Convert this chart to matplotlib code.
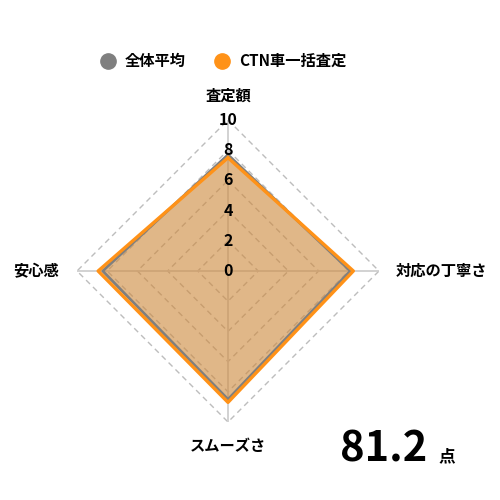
import numpy as np
import matplotlib.pyplot as plt
from matplotlib.lines import Line2D

plt.rcParams['font.family'] = ['Noto Sans CJK JP', 'DejaVu Sans']

# data
categories = ['査定額', '対応の丁寧さ', 'スムーズさ', '安心感']
avg_vals = [7.7, 8.1, 8.5, 8.3]     # 全体平均
ctn_vals = [7.5, 8.3, 8.7, 8.6]     # CTN車一括査定
series_names = ['全体平均', 'CTN車一括査定']
ticks = [0, 2, 4, 6, 8, 10]
score = '81.2'

gray = '#7f7f7f'
orange = '#ff9218'

fig = plt.figure(figsize=(5, 5), dpi=100)
ax = fig.add_axes([0.154, 0.156, 0.604, 0.604], projection='polar')
ax.set_theta_offset(np.pi / 2)
ax.set_theta_direction(-1)
ax.set_ylim(0, 10)
ax.grid(False)
ax.spines['polar'].set_visible(False)
ax.set_xticks([])
ax.set_yticks([])

n = len(categories)
ang = np.linspace(0, 2 * np.pi, n, endpoint=False)
ang_c = np.append(ang, ang[0])

# diamond grid + spokes
for r in ticks[1:]:
    ax.plot(ang_c, [r] * (n + 1), color='#bdbdbd', lw=1, ls=(0, (4, 3)), zorder=1)
for a in ang:
    ax.plot([a, a], [0, 10], color='#cfcfcf', lw=1.3, zorder=1)

# series
for vals, col in [(avg_vals, gray), (ctn_vals, orange)]:
    v = np.append(vals, vals[0])
    ax.fill(ang_c, v, color=col, alpha=0.38, lw=0, zorder=2)
    ax.plot(ang_c, v, color=col, lw=2.4 if col == orange else 2, zorder=3)

# radial tick labels
for t in ticks:
    ax.text(0, t, str(t), ha='center', va='center', fontsize=11.5,
            fontweight='semibold', zorder=5, clip_on=False)

# category labels
ax.text(ang[0], 11.6, categories[0], ha='center', va='center', fontsize=11, fontweight='bold')
ax.text(ang[1], 11.1, categories[1], ha='left', va='center', fontsize=11, fontweight='bold')
ax.text(ang[2], 11.6, categories[2], ha='center', va='center', fontsize=11, fontweight='bold')
ax.text(ang[3], 11.2, categories[3], ha='right', va='center', fontsize=11, fontweight='bold')

handles = [Line2D([], [], ls='none', marker='o', ms=11, color=gray),
           Line2D([], [], ls='none', marker='o', ms=11, color=orange)]
fig.legend(handles, series_names, loc='center', bbox_to_anchor=(0.446, 0.878),
           ncol=2, frameon=False, handletextpad=0.6, columnspacing=1.9,
           handlelength=1, prop={'size': 11, 'weight': 'bold'})

fig.text(0.68, 0.078, score, fontsize=30, fontweight='bold', va='baseline')
fig.text(0.876, 0.078, '点', fontsize=12, fontweight='bold', va='baseline')

fig.savefig('out.png', dpi=100)
